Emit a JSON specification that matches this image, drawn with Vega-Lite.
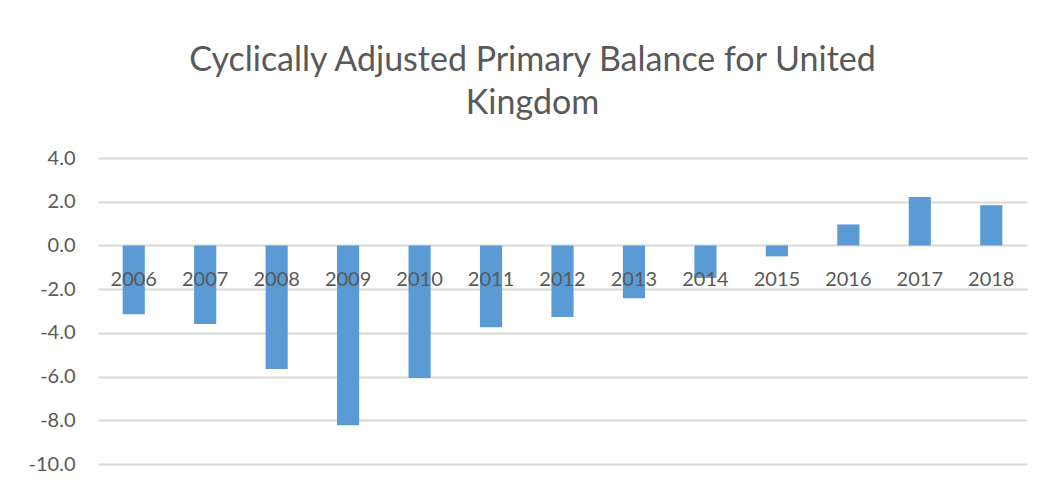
{
  "$schema": "https://vega.github.io/schema/vega-lite/v6.json",
  "width": 929,
  "height": 306,
  "autosize": {"type": "none"},
  "padding": {"left": 98, "top": 158, "right": 16, "bottom": 18},
  "background": "white",
  "title": {
    "text": ["Cyclically Adjusted Primary Balance for United", "Kingdom"],
    "font": "Lato",
    "fontSize": 34,
    "fontWeight": "normal",
    "color": "#595959",
    "anchor": "middle",
    "frame": "group",
    "dx": -30,
    "baseline": "alphabetic",
    "lineHeight": 43,
    "offset": 0
  },
  "data": {
    "values": [
      {"year": "2006", "value": -3.15},
      {"year": "2007", "value": -3.6},
      {"year": "2008", "value": -5.65},
      {"year": "2009", "value": -8.23},
      {"year": "2010", "value": -6.07},
      {"year": "2011", "value": -3.74},
      {"year": "2012", "value": -3.27},
      {"year": "2013", "value": -2.42},
      {"year": "2014", "value": -1.49},
      {"year": "2015", "value": -0.5},
      {"year": "2016", "value": 0.96},
      {"year": "2017", "value": 2.22},
      {"year": "2018", "value": 1.84}
    ]
  },
  "mark": {"type": "bar", "color": "#5B9BD5"},
  "encoding": {
    "x": {
      "field": "year",
      "type": "ordinal",
      "scale": {"paddingInner": 0.69, "paddingOuter": 0.345},
      "axis": {
        "title": null,
        "orient": "bottom",
        "offset": -218.6,
        "domain": false,
        "ticks": false,
        "grid": false,
        "labelAngle": 0,
        "labelFont": "Lato",
        "labelFontSize": 20,
        "labelColor": "#595959",
        "labelPadding": 24,
        "labelBaseline": "top",
        "zindex": 1
      }
    },
    "y": {
      "field": "value",
      "type": "quantitative",
      "scale": {"domain": [-10, 4], "nice": false, "zero": false},
      "axis": {
        "title": null,
        "values": [-10, -8, -6, -4, -2, 0, 2, 4],
        "format": ".1f",
        "labelExpr": "replace(datum.label, '\u2212', '-')",
        "domain": false,
        "ticks": false,
        "grid": true,
        "gridColor": "#D9D9D9",
        "gridWidth": 2,
        "labelFont": "Lato",
        "labelFontSize": 20,
        "labelColor": "#595959",
        "labelPadding": 23,
        "zindex": 0
      }
    }
  },
  "config": {"view": {"stroke": null}}
}
